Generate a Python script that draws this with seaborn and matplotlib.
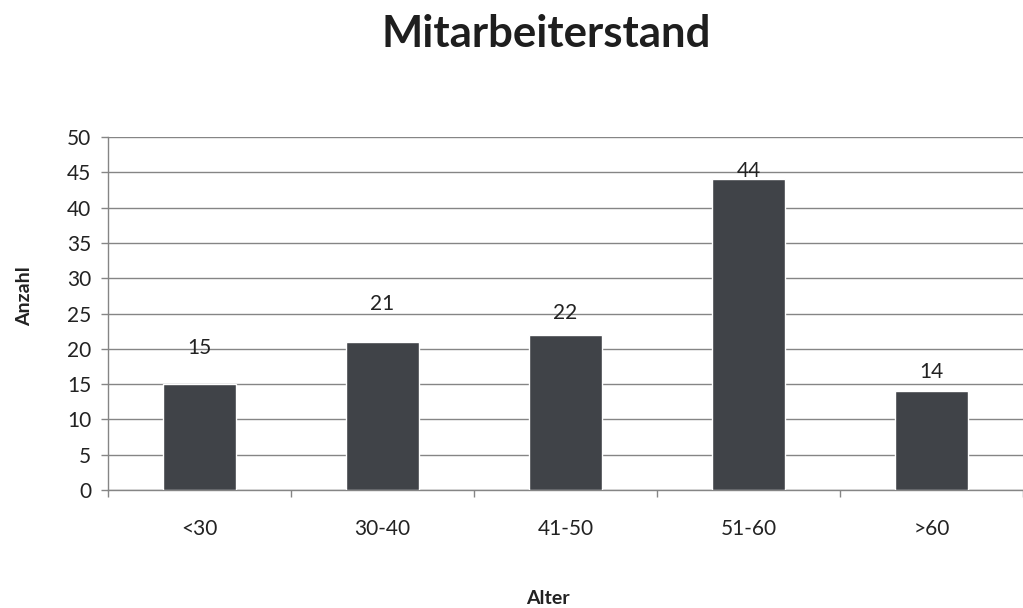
import matplotlib
matplotlib.use("Agg")
import matplotlib.pyplot as plt
import seaborn as sns
import pandas as pd
import numpy as np

# Age groups and headcount per group
categories = ["<30", "30-40", "41-50", "51-60", ">60"]
counts = [15, 21, 22, 44, 14]
yticks = [0, 5, 10, 15, 20, 25, 30, 35, 40, 45, 50]

# vertical gap (pixels) between each bar top and the centre of its value label
label_gaps = [36, 38, 22, 8, 19]

sns.set_theme(style="white")
plt.rcParams["font.family"] = ["Lato", "DejaVu Sans"]

df = pd.DataFrame({"Alter": categories, "Anzahl": counts})

W, H = 1023, 608
fig = plt.figure(figsize=(W / 100, H / 100), dpi=100)
ax = fig.add_axes([108 / W, 1 - 490 / H, 1 - 108 / W, (490 - 137) / H])

sns.barplot(data=df, x="Alter", y="Anzahl", color="#404348", width=0.4,
            saturation=1, ax=ax, zorder=3)

text_col = "#222222"
grid_col = "#858585"

ax.set_ylim(0, 50)
ax.set_xlim(-0.5, len(categories) - 0.5)
ax.set_yticks(yticks)
ax.set_yticklabels([str(t) for t in yticks], fontsize=15, color=text_col)
ax.yaxis.grid(True, color=grid_col, linewidth=1.0, zorder=0)
ax.set_axisbelow(True)

# category labels centred under the bars, tick marks between categories
ax.set_xticks(range(len(categories)))
ax.set_xticklabels(categories, fontsize=15, color=text_col)
ax.tick_params(axis="x", which="major", length=0, pad=21)
ax.set_xticks(np.arange(-0.5, len(categories), 1.0), minor=True)
ax.tick_params(axis="x", which="minor", length=5, width=1, color=grid_col,
               direction="out", bottom=True)
ax.tick_params(axis="y", length=5, width=1, color=grid_col, direction="out",
               left=True, pad=7)

for side in ["top", "right"]:
    ax.spines[side].set_visible(False)
for side in ["left", "bottom"]:
    ax.spines[side].set_color(grid_col)
    ax.spines[side].set_linewidth(1.0)

# value labels above the bars
for i, (v, gap) in enumerate(zip(counts, label_gaps)):
    ax.annotate(str(v), xy=(i, v), xytext=(0, gap * 72 / 100),
                textcoords="offset points", ha="center", va="center",
                fontsize=15, color=text_col)

ax.set_xlabel("Alter", fontsize=14, fontweight="bold", color=text_col)
ax.set_ylabel("Anzahl", fontsize=14, fontweight="bold", color=text_col)
ax.xaxis.set_label_coords((548 - 108) / 915, (490 - 590) / 353)
ax.yaxis.set_label_coords((33 - 108) / 915, (490 - 296) / 353)

fig.text(546 / W, 1 - 34 / H, "Mitarbeiterstand", ha="center",
         va="center", fontsize=31.5, fontweight="bold", color="#1e1e1e")

fig.savefig("out.png", dpi=100, facecolor="white")
